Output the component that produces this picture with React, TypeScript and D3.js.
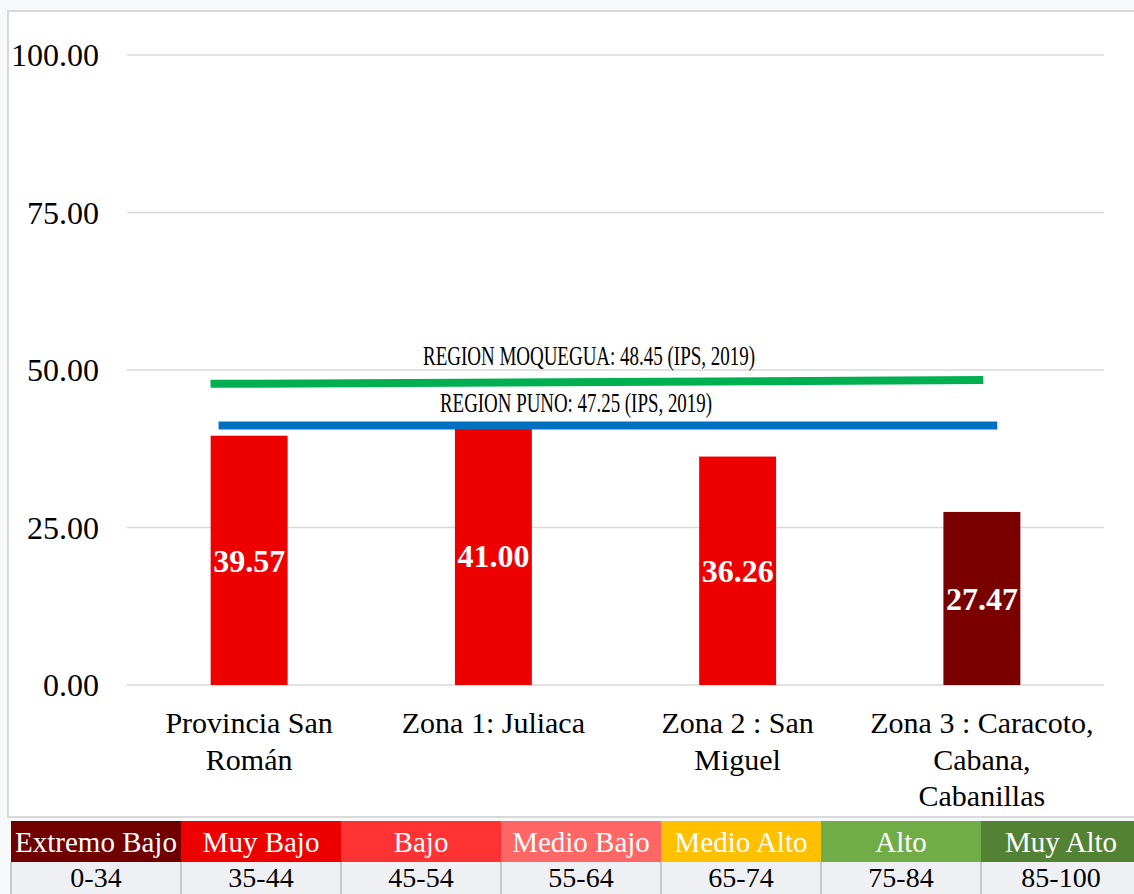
import React from 'react'
import * as d3 from 'd3'

// chart values
const categories = [
  'Provincia San\nRomán',
  'Zona 1: Juliaca',
  'Zona 2 : San\nMiguel',
  'Zona 3 : Caracoto,\nCabana,\nCabanillas',
];
const values = [39.57, 41.0, 36.26, 27.47];
const barColors = ['#ee0000', '#ee0000', '#ee0000', '#7a0000'];
const yTicks = [0, 25, 50, 75, 100];

// reference lines as drawn (x in category index units, y in chart units)
const refLabels = ['REGION MOQUEGUA: 48.45 (IPS, 2019)', 'REGION PUNO: 47.25 (IPS, 2019)'];
const refColors = ['#00b050', '#0070c0'];
const refX = [[-0.158, 3.006], [-0.125, 3.063]];
const refY = [[47.8, 48.4], [41.19, 41.19]];

// level table under the chart
const levelNames = ['Extremo Bajo', 'Muy Bajo', 'Bajo', 'Medio Bajo', 'Medio Alto', 'Alto', 'Muy Alto'];
const levelRanges = ['0-34', '35-44', '45-54', '55-64', '65-74', '75-84', '85-100'];
const levelColors = ['#700000', '#ee0000', '#ff3333', '#ff6666', '#ffc000', '#70ad47', '#548235'];

const width = 1134;
const height = 894;
const font = '"Liberation Serif", "Times New Roman", serif';

const xScale = d3.scaleBand<string>()
  .domain(categories)
  .range([127, 1104])
  .paddingInner(0.685)
  .paddingOuter(0.3425);

const yScale = d3.scaleLinear().domain([0, 100]).range([685, 55]);

// category index -> x at the bar centre
const idxScale = d3.scaleLinear()
  .domain([0, categories.length - 1])
  .range([
    xScale(categories[0])! + xScale.bandwidth() / 2,
    xScale(categories[categories.length - 1])! + xScale.bandwidth() / 2,
  ]);

const levelScale = d3.scaleBand<string>().domain(levelNames).range([21, 1141]);

const fmt = d3.format('.2f');

const Grid = () => (
  <g>
    {yTicks.map((t) => (
      <g key={t}>
        <line x1={127} x2={1104} y1={yScale(t)} y2={yScale(t)} stroke='#d9d9d9' strokeWidth={1.5} />
        <text x={99} y={yScale(t)} dy='0.35em' textAnchor='end' fontSize={32} fill='#000'>
          {fmt(t)}
        </text>
      </g>
    ))}
  </g>
);

const Bars = () => (
  <g>
    {categories.map((c, i) => {
      const x = xScale(c)!;
      const y = yScale(values[i]);
      return (
        <g key={c}>
          <rect x={x} y={y} width={xScale.bandwidth()} height={yScale(0) - y} fill={barColors[i]} />
          <text
            x={x + xScale.bandwidth() / 2}
            y={(y + yScale(0)) / 2}
            dy='0.35em'
            textAnchor='middle'
            fontSize={32}
            fontWeight='bold'
            fill='#fff'
          >
            {fmt(values[i])}
          </text>
        </g>
      );
    })}
  </g>
);

const CategoryLabels = () => (
  <g>
    {categories.map((c) => (
      <text key={c} x={xScale(c)! + xScale.bandwidth() / 2} y={733} textAnchor='middle' fontSize={30}>
        {c.split('\n').map((line, j) => (
          <tspan key={j} x={xScale(c)! + xScale.bandwidth() / 2} y={733 + j * 36.5}>
            {line}
          </tspan>
        ))}
      </text>
    ))}
  </g>
);

const RefLines = () => {
  const labelY = [365, 412];
  const labelX = [589, 576];
  const labelW = [332, 272];
  return (
    <g>
      {refLabels.map((label, i) => (
        <g key={label}>
          <line
            x1={idxScale(refX[i][0])}
            x2={idxScale(refX[i][1])}
            y1={yScale(refY[i][0])}
            y2={yScale(refY[i][1])}
            stroke={refColors[i]}
            strokeWidth={8}
          />
          <text
            x={labelX[i]}
            y={labelY[i]}
            textAnchor='middle'
            fontSize={27}
            textLength={labelW[i]}
            lengthAdjust='spacingAndGlyphs'
          >
            {label}
          </text>
        </g>
      ))}
    </g>
  );
};

const LevelTable = () => (
  <g>
    {levelNames.map((name, i) => {
      const x0 = i === 0 ? 11 : levelScale(name)!;
      const x1 = levelScale(name)! + levelScale.bandwidth();
      const cx = (x0 + x1) / 2;
      return (
        <g key={name}>
          <rect x={x0} y={821} width={x1 - x0} height={41} fill={levelColors[i]} />
          <text x={cx} y={852} textAnchor='middle' fontSize={29} fill='#fff'>{name}</text>
          <rect x={x0} y={862} width={x1 - x0} height={32} fill='#eef0f3' />
          <line x1={x0} x2={x0} y1={862} y2={894} stroke='#c8c8c8' strokeWidth={2} />
          <text x={cx} y={887} textAnchor='middle' fontSize={28} fill='#000'>{levelRanges[i]}</text>
        </g>
      );
    })}
  </g>
);

const App = () => (
  <svg
    width={width}
    height={height}
    style={{ position: 'absolute', left: 0, top: 0, fontFamily: font }}
  >
    <rect width={width} height={height} fill='#f6f8fa' />
    <rect x={8} y={11} width={width} height={806} fill='#fff' stroke='#d9d9d9' strokeWidth={2} />
    <Grid />
    <Bars />
    <RefLines />
    <CategoryLabels />
    <LevelTable />
  </svg>
);

export default App
